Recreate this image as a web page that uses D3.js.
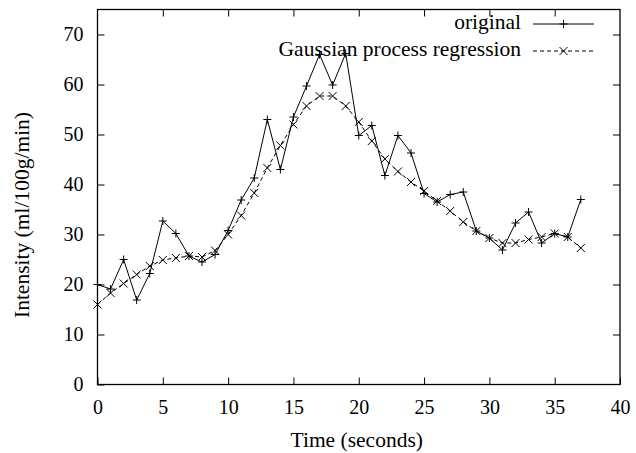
<!DOCTYPE html>
<html>
<head>
<meta charset="utf-8">
<script src="https://cdn.jsdelivr.net/npm/d3@7"></script>
<style>
  html, body { margin: 0; padding: 0; background: #fff; }
  svg { display: block; }
  text { font-family: "Liberation Serif", "Times New Roman", serif; fill: #000; }
</style>
</head>
<body>
<svg id="chart" width="636" height="453"></svg>
<script>
const times = d3.range(0, 38);
const original = [20.0, 19.1, 25.0, 16.9, 22.2, 32.7, 30.2, 25.7, 24.5, 26.0,
                  30.8, 36.9, 41.3, 53.0, 43.0, 53.5, 59.7, 66.0, 59.9, 66.2,
                  49.8, 51.8, 41.8, 49.8, 46.3, 38.2, 36.5, 38.0, 38.5, 30.7,
                  29.3, 26.9, 32.3, 34.5, 28.3, 30.2, 29.5, 37.0];
const gpr = [16.0, 18.3, 20.2, 22.0, 23.7, 24.9, 25.3, 25.7, 25.5, 26.8,
             30.0, 33.8, 38.3, 43.3, 47.8, 52.0, 55.7, 57.7, 57.7, 55.7,
             52.5, 48.7, 45.1, 42.6, 40.5, 38.7, 36.7, 34.7, 32.5, 30.7,
             29.3, 28.3, 28.3, 29.0, 29.5, 30.2, 29.5, 27.3];
const xTicks = [0, 5, 10, 15, 20, 25, 30, 35, 40];
const yTicks = [0, 10, 20, 30, 40, 50, 60, 70];
const seriesNames = ["original", "Gaussian process regression"];

const svg = d3.select("#chart");
const mLeft = 97.5, mRight = 620, mTop = 9.5, mBottom = 384.5;
const x = d3.scaleLinear().domain([0, 40]).range([mLeft, mRight]);
const y = d3.scaleLinear().domain([0, 75]).range([mBottom, mTop]);
const fsTick = 20;
const fsText = 21.5;
const tickLen = 7;

const axB = svg.append("g").attr("transform", `translate(0,${mBottom})`)
  .call(d3.axisBottom(x).tickValues(xTicks).tickSizeInner(-tickLen).tickSizeOuter(0).tickPadding(15));
const axT = svg.append("g").attr("transform", `translate(0,${mTop})`)
  .call(d3.axisTop(x).tickValues(xTicks.slice(1, -1)).tickSizeInner(-tickLen).tickSizeOuter(0).tickFormat(""));
const axL = svg.append("g").attr("transform", `translate(${mLeft},0)`)
  .call(d3.axisLeft(y).tickValues(yTicks).tickSizeInner(-tickLen).tickSizeOuter(0).tickPadding(14));
const axR = svg.append("g").attr("transform", `translate(${mRight},0)`)
  .call(d3.axisRight(y).tickValues(yTicks.slice(1)).tickSizeInner(-tickLen).tickSizeOuter(0).tickFormat(""));
[axB, axT, axL, axR].forEach(g => {
  g.select(".domain").remove();
  g.selectAll("line").attr("stroke", "#000").attr("stroke-width", 1);
  g.selectAll("text").attr("font-size", fsTick).attr("font-family", "Liberation Serif, serif").attr("fill", "#000");
});
axB.selectAll("text").attr("dy", "0.71em");

svg.append("rect").attr("x", mLeft).attr("y", mTop)
  .attr("width", mRight - mLeft).attr("height", mBottom - mTop)
  .attr("fill", "none").attr("stroke", "#000").attr("stroke-width", 1.3);

svg.append("text").attr("x", (mLeft + mRight) / 2 - 2).attr("y", 447)
  .attr("text-anchor", "middle").attr("font-size", fsText).text("Time (seconds)");
svg.append("text").attr("transform", `translate(29,${(mTop + mBottom) / 2 + 18}) rotate(-90)`)
  .attr("text-anchor", "middle").attr("font-size", fsText).text("Intensity (ml/100g/min)");

const line = d3.line().x((d, i) => x(times[i])).y(d => y(d));
const plusPath = s => `M${-s},0H${s}M0,${-s}V${s}`;
const crossPath = s => `M${-s},${-s}L${s},${s}M${-s},${s}L${s},${-s}`;

const g = svg.append("g");
g.append("path").datum(original).attr("d", line)
  .attr("fill", "none").attr("stroke", "#000").attr("stroke-width", 1);
g.append("path").datum(gpr).attr("d", line)
  .attr("fill", "none").attr("stroke", "#000").attr("stroke-width", 1)
  .attr("stroke-dasharray", "4,3");
g.selectAll(".p1").data(original).enter().append("path")
  .attr("transform", (d, i) => `translate(${x(times[i])},${y(d)})`)
  .attr("d", plusPath(4)).attr("stroke", "#000").attr("stroke-width", 1).attr("fill", "none");
g.selectAll(".p2").data(gpr).enter().append("path")
  .attr("transform", (d, i) => `translate(${x(times[i])},${y(d)})`)
  .attr("d", crossPath(4)).attr("stroke", "#000").attr("stroke-width", 1).attr("fill", "none");

const legY = [24, 51];
const lx1 = 533, lx2 = 594, lm = 563.5;
seriesNames.forEach((name, i) => {
  svg.append("text").attr("x", 521).attr("y", legY[i] + 5)
    .attr("text-anchor", "end").attr("font-size", fsText).text(name);
  svg.append("line").attr("x1", lx1).attr("x2", lx2).attr("y1", legY[i]).attr("y2", legY[i])
    .attr("stroke", "#000").attr("stroke-width", 1)
    .attr("stroke-dasharray", i === 1 ? "4,3" : null);
  svg.append("path").attr("transform", `translate(${lm},${legY[i]})`)
    .attr("d", i === 0 ? plusPath(4) : crossPath(4))
    .attr("stroke", "#000").attr("stroke-width", 1).attr("fill", "none");
});
</script>
</body>
</html>
